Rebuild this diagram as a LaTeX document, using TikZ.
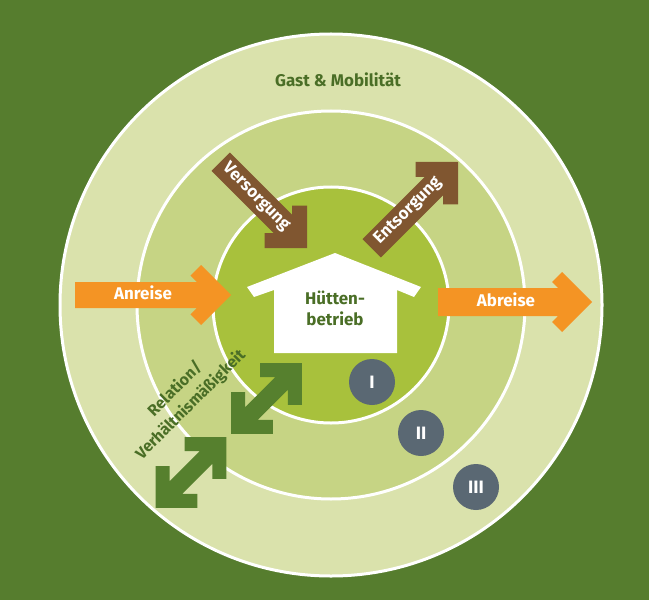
\documentclass[tikz,border=0pt]{standalone}
\usepackage{fontspec}
\setmainfont{Fira Sans}
\definecolor{bggreen}{RGB}{86,125,46}
\definecolor{ringA}{RGB}{218,226,172}
\definecolor{ringB}{RGB}{198,212,132}
\definecolor{ringC}{RGB}{168,193,60}
\definecolor{orangeA}{RGB}{244,148,36}
\definecolor{brownA}{RGB}{128,86,48}
\definecolor{arrowgreen}{RGB}{86,128,46}
\definecolor{textgreen}{RGB}{74,110,38}
\definecolor{grayA}{RGB}{90,104,115}
\newcommand{\sarrow}[4]{% L h a w ; tip at origin pointing +x
  (-#1,#2) -- ({-#2-1.4142*#4},#2) -- ({-#3-0.7071*#4},{#3-0.7071*#4}) -- (-#3,#3) -- (0,0)
  -- (-#3,-#3) -- ({-#3-0.7071*#4},{-#3+0.7071*#4}) -- ({-#2-1.4142*#4},-#2) -- (-#1,-#2) -- cycle}
\newcommand{\darrow}[4]{% half-length h a w ; centred at origin
  ({-(#1-#2-1.4142*#4)},#2) -- ({#1-#2-1.4142*#4},#2) -- ({#1-#3-0.7071*#4},{#3-0.7071*#4})
  -- ({#1-#3},#3) -- (#1,0) -- ({#1-#3},-#3) -- ({#1-#3-0.7071*#4},{-(#3-0.7071*#4)})
  -- ({#1-#2-1.4142*#4},-#2) -- ({-(#1-#2-1.4142*#4)},-#2) -- ({-(#1-#3-0.7071*#4)},{-(#3-0.7071*#4)})
  -- ({-(#1-#3)},-#3) -- (-#1,0) -- ({-(#1-#3)},#3) -- ({-(#1-#3-0.7071*#4)},{#3-0.7071*#4}) -- cycle}
\tikzset{
  ring/.style={draw=white, line width=3bp},
  lbl/.style={font=\bfseries\fontsize{17}{20}\selectfont, inner sep=0pt},
  numcirc/.style={circle, fill=grayA, minimum size=46bp, inner sep=0pt, text=white,
    font=\bfseries\fontsize{18}{20}\selectfont}
}
\begin{document}
\begin{tikzpicture}[x=1bp,y=-1bp]
\fill[bggreen] (0,0) rectangle (649,600);
\path[use as bounding box] (0,0) rectangle (649,600);
% rings
\filldraw[ring, fill=ringA] (331,305) circle[radius=271];
\filldraw[ring, fill=ringB] (331,305) circle[radius=194];
\filldraw[ring, fill=ringC] (331,305) circle[radius=118];
% orange arrows
\begin{scope}[shift={(231,295)}]
  \fill[orangeA] \sarrow{156}{13}{30}{15};
\end{scope}
\begin{scope}[shift={(592,302)}]
  \fill[orangeA] \sarrow{154}{14}{30}{14};
\end{scope}
% brown arrows
\begin{scope}[shift={(307,248)}, rotate=-45]
  \fill[brownA] \sarrow{122}{13}{30}{15};
\end{scope}
\begin{scope}[shift={(458,162)}, rotate=45]
  \fill[brownA] \sarrow{122}{13}{30}{15};
\end{scope}
% green double arrows
\begin{scope}[shift={(266.5,398.5)}, rotate=45]
  \fill[arrowgreen] \darrow{50}{9}{29.5}{14};
\end{scope}
\begin{scope}[shift={(191,472.5)}, rotate=45]
  \fill[arrowgreen] \darrow{50}{9}{29.5}{14};
\end{scope}
% house
\fill[white] (335,253) -- (421,287) -- (414,297) -- (397,290) -- (397,353) -- (274,353)
  -- (274,290) -- (254,297) -- (247,287) -- cycle;
% texts
\node[lbl, text=textgreen, align=center, font=\bfseries\fontsize{17}{21}\selectfont] (huette) at (335,308) {Hütten-\\betrieb};
\node[lbl, text=textgreen] (gast) at (338,80) {Gast \& Mobilität};
\node[lbl, text=white] (anreise) at (143,293) {Anreise};
\node[lbl, text=white] (abreise) at (506,300) {Abreise};
\node[lbl, text=white, rotate=-45] (versorgung) at (256,197) {Versorgung};
\node[lbl, text=white, rotate=45] (entsorgung) at (408,211) {Entsorgung};
\node[lbl, text=textgreen, rotate=45, align=center, font=\bfseries\fontsize{16}{22}\selectfont]
  (relation) at (183,397) {Relation/\\Verhältnismäßigkeit};
% level circles
\node[numcirc] (c1) at (372,382) {I};
\node[numcirc] (c2) at (421,433) {II};
\node[numcirc] (c3) at (476,487) {III};
\end{tikzpicture}
\end{document}
